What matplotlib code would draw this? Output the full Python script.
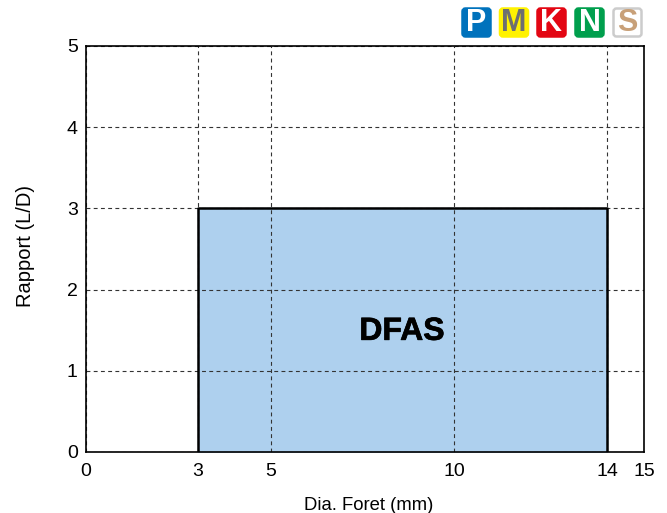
import numpy as np
import matplotlib.pyplot as plt
import matplotlib.patheffects as pe
from matplotlib.patches import FancyBboxPatch

plt.rcParams['font.family'] = ['Liberation Sans', 'DejaVu Sans']

# valeurs
x_ticks = [0, 3, 5, 10, 14, 15]
y_ticks = [0, 1, 2, 3, 4, 5]
dia_foret = [3, 14]
rapport_max = [3, 3]
nom_zone = 'DFAS'

lettres = ['P', 'M', 'K', 'N', 'S']
couleurs_fond = ['#0072bc', '#fff200', '#e30613', '#009f4d', '#ffffff']
couleurs_bord = ['#0072bc', '#fff200', '#e30613', '#009f4d', '#cccccc']
couleurs_texte = ['#ffffff', '#6d6e71', '#ffffff', '#ffffff', '#c8a078']
badges_x = [461, 498.5, 536, 574, 612]

W, H = 667, 513

# l'axe x de l'original n'est pas tout a fait regulier
x_fraction = (np.array([198, 271, 454, 607]) - 86) / 558
x_knots = np.array([0, 3, 5, 10, 14, 15])
f_knots = np.concatenate(([0], x_fraction, [1]))

def x_vers_f(v):
    return np.interp(v, x_knots, f_knots)

def f_vers_x(v):
    return np.interp(v, f_knots, x_knots)

fig = plt.figure(figsize=(W / 100, H / 100), dpi=100)
ax = fig.add_axes([86 / W, 1 - 452 / H, 558 / W, 406 / H])
ax.set_xscale('function', functions=(x_vers_f, f_vers_x))

ax.fill_between(dia_foret, 0, rapport_max, color='#aed0ee', zorder=1)
ax.plot([dia_foret[0], dia_foret[0], dia_foret[1], dia_foret[1]],
        [0, rapport_max[0], rapport_max[1], 0], color='black', lw=1.8, zorder=3)
ax.text(8.58, 1.48, nom_zone, fontsize=23, fontweight='bold', ha='center', va='center', zorder=4,
        path_effects=[pe.withStroke(linewidth=0.5, foreground='black')])

ax.set_xlim(0, 15)
ax.set_ylim(0, 5)
ax.set_xticks(x_ticks)
ax.set_xticks([], minor=True)
ax.set_xticklabels([str(v) for v in x_ticks])
ax.set_yticks(y_ticks)
ax.tick_params(length=0, labelsize=14, pad=8)
ax.tick_params(axis='y', pad=6)
ax.grid(True, color='#333333', ls=(0, (3.5, 3)), lw=0.8, zorder=2)
ax.set_axisbelow(False)
for s in ax.spines.values():
    s.set_linewidth(1.2)
    s.set_zorder(5)

ax.set_xlabel('Dia. Foret (mm)', fontsize=13.3, labelpad=12)
ax.set_ylabel('Rapport (L/D)', fontsize=14.5, labelpad=23)
ax.xaxis.label.set_x(0.507)
ax.yaxis.label.set_y(0.508)

# pictogrammes matieres en coordonnees pixels
bg = fig.add_axes([0, 0, 1, 1], facecolor='none')
bg.set_xlim(0, W)
bg.set_ylim(H, 0)
bg.axis('off')
for i in range(len(lettres)):
    x0 = badges_x[i]
    bg.add_patch(FancyBboxPatch((x0 + 1.5, 8.5), 28, 28, boxstyle='round,pad=0,rounding_size=3',
                                mutation_aspect=1, fc=couleurs_fond[i], ec=couleurs_bord[i], lw=1.8))
    bg.text(x0 + 15.5, 23, lettres[i], color=couleurs_texte[i], fontsize=22, fontweight='bold',
            ha='center', va='center')

fig.savefig('out.png', dpi=100)
